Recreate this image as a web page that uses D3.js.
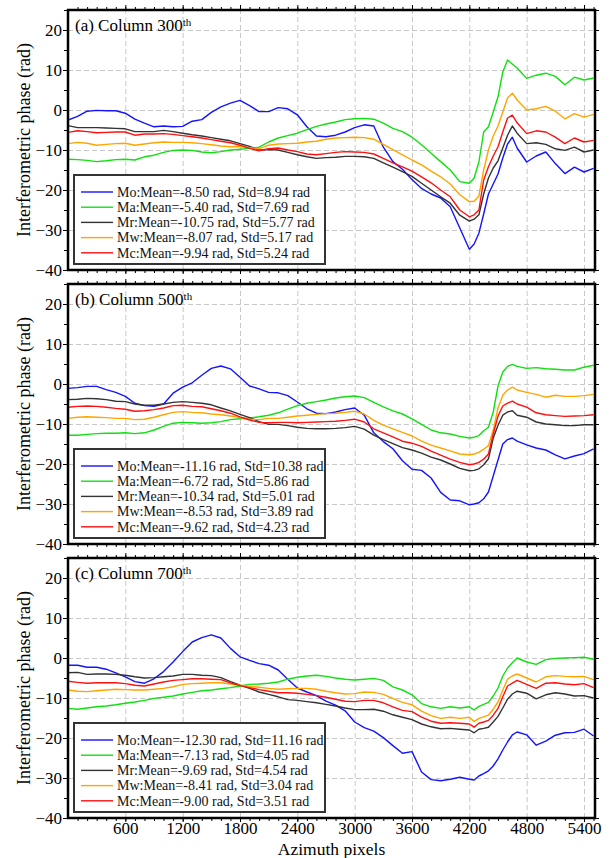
<!DOCTYPE html>
<html lang="en">
<head>
    <meta charset="UTF-8">
    <title>Interferometric phase profiles</title>
    <script src="https://d3js.org/d3.v7.min.js"></script>
    <style>
        body { margin: 0; background: #fff; }
        svg { font-family: "Liberation Serif", "Times New Roman", serif; }
        .grid line { stroke: #c8c8c8; stroke-width: 1px; stroke-dasharray: 5,3; }
        .grid path { display: none; }
        .ax path { display: none; }
        .ax line { stroke: #000; stroke-width: 1px; }
        .ax text { font-family: "Liberation Serif", serif; font-size: 17px; fill: #000; }
        .series { fill: none; stroke-width: 1.4px; stroke-linejoin: round; }
        .frame { fill: none; stroke: #000; stroke-width: 2.5px; }
        .legend-box { fill: #fff; stroke: #333; stroke-width: 2px; }
        .legend text { font-size: 14px; fill: #111; }
    </style>
</head>
<body>
    <svg width="610" height="858"></svg>

    <script>
        // azimuth pixel positions where the profiles were sampled
        const azimuth = [0,100,200,300,400,500,600,700,800,900,
            1000,1100,1200,1300,1400,1500,1600,1700,1800,1900,
            2000,2100,2200,2300,2400,2500,2600,2700,2800,2900,
            3000,3100,3200,3300,3400,3500,3600,3700,3800,3900,
            4000,4100,4200,4250,4300,4350,4400,4450,4500,4550,
            4600,4650,4700,4800,4900,5000,5100,5200,5300,5400,
            5500];

        // (a) column 300
        const mo300 = [-2.5,-1.6,-0.3,-0.1,-0.2,-0.2,-0.8,-2.3,-3.3,-4.2,
            -4.0,-4.2,-4.1,-2.8,-2.4,-0.6,0.8,1.7,2.4,1.1,
            -0.4,-0.4,0.6,0.3,-1.2,-4.2,-6.5,-6.7,-6.3,-5.5,
            -4.4,-3.7,-4.0,-9.3,-12.9,-14.8,-17.4,-19.6,-21.0,-22.0,
            -24.2,-29.5,-34.8,-33.5,-30.8,-26.0,-21.0,-18.5,-16.0,-12.0,
            -8.5,-6.8,-9.5,-13.0,-11.5,-10.5,-13.4,-15.9,-14.3,-15.5,
            -14.6];
        const ma300 = [-12.3,-12.4,-12.6,-12.9,-12.7,-12.4,-12.3,-12.5,-11.7,-11.3,
            -10.6,-10.1,-10.0,-10.1,-10.5,-10.7,-10.4,-10.0,-9.8,-9.6,
            -9.3,-8.0,-7.0,-6.4,-5.8,-4.9,-4.1,-3.5,-3.0,-2.4,
            -2.2,-2.1,-2.3,-3.3,-4.6,-5.4,-6.8,-8.7,-10.8,-12.9,
            -15.0,-17.9,-18.3,-17.0,-13.0,-5.5,-4.2,-0.5,3.3,9.5,
            12.5,11.5,10.5,7.9,8.7,9.2,8.4,6.3,8.2,7.5,
            8.0];
        const mr300 = [-3.9,-4.4,-4.4,-4.4,-4.5,-4.6,-4.7,-5.4,-5.4,-5.4,
            -5.1,-5.4,-5.8,-6.2,-6.5,-6.9,-7.3,-7.7,-8.4,-9.1,
            -10.0,-9.9,-10.0,-10.6,-11.2,-11.7,-12.1,-11.9,-11.8,-11.6,
            -11.6,-11.7,-12.1,-13.2,-14.3,-15.4,-16.6,-18.3,-20.0,-21.7,
            -23.3,-26.3,-27.8,-27.3,-26.2,-21.0,-17.0,-14.5,-12.7,-9.5,
            -6.3,-4.0,-5.8,-8.4,-8.2,-8.6,-9.7,-10.1,-9.3,-10.5,
            -10.0];
        const mw300 = [-8.4,-8.1,-8.3,-8.8,-8.6,-8.4,-8.3,-8.8,-8.5,-8.2,
            -8.0,-8.1,-8.1,-8.2,-8.4,-8.7,-9.0,-9.2,-9.2,-9.4,
            -9.7,-8.8,-8.5,-8.4,-8.3,-8.0,-7.8,-7.3,-7.0,-6.9,
            -6.8,-6.9,-7.3,-8.6,-9.9,-11.2,-12.5,-13.7,-15.3,-16.7,
            -18.5,-21.2,-22.9,-22.8,-21.5,-15.0,-10.0,-6.5,-4.0,-0.5,
            3.0,4.2,2.5,0.0,0.3,0.9,-0.3,-2.2,-0.9,-1.8,
            -1.1];
        const mc300 = [-5.6,-5.2,-5.4,-5.7,-5.6,-5.5,-5.5,-6.3,-6.0,-6.0,
            -5.9,-6.1,-6.4,-6.7,-7.0,-7.4,-7.8,-8.2,-8.8,-9.6,
            -10.2,-9.7,-9.5,-10.0,-10.4,-11.0,-11.2,-10.9,-10.6,-10.4,
            -10.5,-10.6,-11.0,-12.1,-13.2,-14.2,-15.3,-16.7,-18.2,-20.0,
            -21.7,-25.0,-26.7,-26.2,-25.0,-17.5,-14.2,-11.5,-9.2,-5.5,
            -2.0,-1.3,-3.2,-5.9,-5.2,-5.5,-6.8,-8.4,-7.0,-8.0,
            -7.6];

        // (b) column 500
        const mo500 = [-1.1,-0.9,-0.6,-0.6,-1.4,-2.1,-3.1,-4.8,-5.4,-5.6,
            -5.0,-2.3,-0.8,0.3,2.2,3.9,4.5,3.8,1.7,-0.5,
            -1.2,-2.1,-2.2,-2.9,-4.5,-6.2,-7.3,-7.4,-7.0,-6.4,
            -6.0,-7.8,-12.2,-14.4,-16.2,-19.2,-21.3,-21.6,-23.5,-27.1,
            -29.0,-29.2,-30.2,-30.0,-29.7,-28.7,-27.0,-23.0,-19.0,-15.0,
            -13.9,-13.5,-14.3,-15.2,-16.0,-16.5,-17.7,-18.7,-18.0,-17.4,
            -16.2];
        const ma500 = [-12.8,-12.8,-12.6,-12.4,-12.3,-12.3,-12.2,-12.4,-12.2,-11.5,
            -10.6,-9.8,-9.6,-9.7,-9.8,-9.7,-9.4,-8.9,-8.7,-8.5,
            -8.2,-7.8,-7.2,-6.3,-5.4,-4.8,-4.4,-4.0,-3.5,-3.2,
            -3.0,-3.4,-4.6,-5.7,-6.7,-7.5,-8.7,-10.1,-11.5,-12.2,
            -12.5,-13.1,-13.5,-13.3,-12.9,-11.7,-10.8,-7.0,-0.5,3.0,
            4.4,4.9,4.4,3.9,4.1,3.8,3.7,3.5,3.5,4.2,
            4.7];
        const mr500 = [-3.9,-3.8,-3.6,-3.7,-3.9,-4.3,-4.4,-5.0,-5.3,-5.3,
            -5.0,-4.6,-4.4,-4.6,-4.8,-5.2,-6.0,-6.7,-7.6,-8.4,
            -9.4,-10.1,-10.1,-10.4,-10.8,-11.1,-11.2,-11.2,-11.1,-10.9,
            -10.6,-11.3,-12.8,-13.9,-14.9,-15.9,-16.5,-17.3,-18.3,-19.0,
            -20.0,-21.1,-21.7,-21.6,-21.2,-20.2,-18.7,-13.5,-10.3,-7.8,
            -7.0,-6.7,-7.8,-8.3,-9.5,-10.0,-10.2,-10.4,-10.4,-10.2,
            -10.2];
        const mw500 = [-8.6,-8.3,-8.2,-8.3,-8.4,-8.6,-8.6,-8.9,-8.8,-8.3,
            -7.7,-7.1,-6.9,-7.1,-7.2,-7.5,-7.7,-8.0,-8.4,-8.8,
            -8.9,-8.6,-8.6,-8.3,-8.0,-7.8,-7.6,-7.4,-7.3,-7.1,
            -6.8,-7.5,-9.1,-10.3,-11.2,-12.1,-13.0,-14.3,-15.3,-16.0,
            -16.7,-17.5,-17.7,-17.5,-17.1,-16.3,-15.4,-11.5,-6.0,-2.8,
            -1.5,-0.8,-1.5,-2.1,-2.6,-3.3,-2.8,-3.1,-3.1,-2.9,
            -2.6];
        const mc500 = [-5.8,-5.6,-5.5,-5.6,-5.8,-6.1,-6.3,-6.8,-6.7,-6.4,
            -6.0,-5.4,-5.3,-5.6,-5.7,-6.2,-6.7,-7.3,-8.2,-9.0,
            -9.6,-9.7,-9.6,-9.6,-9.7,-9.6,-9.5,-9.4,-9.3,-9.1,
            -8.8,-9.5,-11.2,-12.2,-13.2,-14.3,-14.8,-15.6,-16.8,-17.8,
            -18.8,-19.6,-20.2,-20.0,-19.6,-18.8,-17.5,-12.5,-8.0,-5.5,
            -4.8,-4.3,-5.0,-5.8,-7.2,-7.7,-7.9,-8.1,-8.0,-7.9,
            -7.7];

        // (c) column 700
        const mo700 = [-1.8,-1.8,-2.3,-2.3,-2.8,-3.7,-4.7,-5.9,-6.3,-5.2,
            -3.4,-1.0,1.6,4.0,5.1,5.8,5.0,2.4,0.3,-0.6,
            -1.4,-1.8,-3.0,-5.3,-7.5,-8.5,-9.4,-10.8,-11.8,-13.2,
            -16.0,-17.4,-18.3,-19.9,-21.9,-23.8,-23.4,-28.5,-30.4,-30.7,
            -30.3,-29.8,-30.3,-30.5,-29.5,-28.9,-28.2,-27.0,-25.2,-23.0,
            -21.0,-19.2,-18.5,-19.2,-21.8,-20.8,-19.3,-18.7,-18.6,-17.8,
            -19.5];
        const ma700 = [-12.6,-12.8,-12.5,-12.2,-12.0,-11.7,-11.3,-11.0,-10.6,-10.1,
            -9.8,-9.5,-9.0,-8.6,-8.2,-8.0,-7.7,-7.4,-7.0,-6.6,
            -6.5,-6.3,-6.0,-5.3,-4.8,-4.5,-4.3,-4.6,-5.0,-5.3,
            -5.5,-5.3,-5.1,-5.6,-7.2,-8.0,-9.2,-11.4,-12.2,-12.6,
            -12.2,-12.5,-12.2,-13.0,-12.1,-11.6,-11.1,-9.5,-7.5,-4.5,
            -2.5,-1.2,0.0,-1.0,-1.6,-0.4,-0.1,0.0,0.1,0.2,
            -0.3];
        const mr700 = [-3.7,-3.6,-4.1,-4.0,-4.0,-4.1,-4.3,-4.7,-5.0,-4.9,
            -4.7,-4.5,-4.1,-4.1,-4.3,-4.4,-4.9,-5.9,-6.8,-7.6,
            -8.5,-9.1,-9.7,-10.4,-10.6,-10.9,-11.2,-11.6,-12.0,-12.5,
            -12.9,-12.9,-12.8,-13.3,-14.2,-14.8,-15.4,-16.5,-17.2,-17.7,
            -17.6,-17.8,-18.0,-18.7,-17.8,-17.6,-17.3,-16.0,-14.6,-12.5,
            -10.3,-9.0,-8.3,-8.8,-10.2,-9.2,-8.7,-9.0,-9.5,-9.4,
            -10.0];
        const mw700 = [-8.0,-8.3,-8.4,-8.2,-8.0,-7.8,-7.9,-8.0,-8.0,-7.8,
            -7.6,-7.2,-6.6,-6.4,-6.3,-6.2,-6.2,-6.5,-6.8,-7.1,
            -7.3,-7.6,-7.8,-7.7,-7.6,-7.6,-7.8,-8.3,-8.7,-9.0,
            -8.9,-8.5,-8.6,-9.1,-10.1,-11.1,-11.7,-13.3,-14.4,-15.1,
            -14.8,-15.1,-14.8,-15.9,-15.1,-14.7,-14.3,-12.8,-11.0,-8.0,
            -5.3,-4.5,-4.0,-5.0,-6.0,-4.7,-4.4,-4.6,-4.7,-4.6,
            -5.4];
        const mc700 = [-5.8,-6.1,-6.3,-6.2,-6.2,-6.2,-6.4,-6.8,-7.0,-6.5,
            -6.0,-5.6,-5.4,-5.2,-5.2,-5.3,-5.4,-6.2,-6.9,-7.4,
            -7.9,-8.3,-8.7,-8.7,-8.8,-9.1,-9.4,-9.8,-10.3,-10.8,
            -10.9,-10.6,-10.6,-11.2,-12.2,-13.1,-13.4,-14.8,-15.8,-16.3,
            -16.2,-16.3,-16.5,-17.3,-16.3,-16.0,-15.6,-14.3,-12.6,-9.7,
            -7.0,-6.3,-5.6,-6.6,-7.6,-6.3,-6.2,-6.5,-6.7,-6.4,
            -7.4];

        // legend statistics (rad)
        const methods = ["Mo", "Ma", "Mr", "Mw", "Mc"];
        const colors = ["#1414ff", "#10e010", "#333333", "#ffa500", "#ff1010"];
        const means300 = [-8.50, -5.40, -10.75, -8.07, -9.94];
        const stds300 = [8.94, 7.69, 5.77, 5.17, 5.24];
        const means500 = [-11.16, -6.72, -10.34, -8.53, -9.62];
        const stds500 = [10.38, 5.86, 5.01, 3.89, 4.23];
        const means700 = [-12.30, -7.13, -9.69, -8.41, -9.00];
        const stds700 = [11.16, 4.05, 4.54, 3.04, 3.51];

        const xMajor = [600, 1200, 1800, 2400, 3000, 3600, 4200, 4800, 5400];
        const yMajor = [20, 10, 0, -10, -20, -30, -40];

        const panels = [
            { tag: "(a)", col: "300", series: [mo300, ma300, mr300, mw300, mc300], means: means300, stds: stds300 },
            { tag: "(b)", col: "500", series: [mo500, ma500, mr500, mw500, mc500], means: means500, stds: stds500 },
            { tag: "(c)", col: "700", series: [mo700, ma700, mr700, mw700, mc700], means: means700, stds: stds700 }
        ];

        const svg = d3.select("svg");
        const left = 68, right = 595, ph = 260;
        const tops = [10, 284, 558];

        const x = d3.scaleLinear().domain([0, 5515]).range([left, right]);
        const xMinor = d3.range(100, 5515, 100);
        const yMinor = d3.range(-40, 26, 5);

        panels.forEach((p, k) => {
            const top = tops[k], bottom = top + ph;
            const y = d3.scaleLinear().domain([-40, 25]).range([bottom, top]);
            const g = svg.append("g");

            // dashed grid
            g.append("g").attr("class", "grid")
                .attr("transform", `translate(0,${bottom})`)
                .call(d3.axisBottom(x).tickValues(xMajor).tickSize(-ph).tickFormat(""));
            g.append("g").attr("class", "grid")
                .attr("transform", `translate(${left},0)`)
                .call(d3.axisLeft(y).tickValues(yMajor.filter(v => v > -40)).tickSize(-(right - left)).tickFormat(""));

            // profiles
            g.append("clipPath").attr("id", "clip" + k)
                .append("rect").attr("x", left).attr("y", top).attr("width", right - left).attr("height", ph);

            const line = d3.line().x((d, i) => x(azimuth[i])).y(d => y(d));
            g.append("g").attr("clip-path", `url(#clip${k})`)
                .selectAll("path")
                .data(p.series)
                .enter().append("path")
                .attr("class", "series")
                .attr("stroke", (d, i) => colors[i])
                .attr("d", line);

            // ticks on all four sides
            g.append("g").attr("class", "ax").attr("transform", `translate(${left},0)`)
                .call(d3.axisLeft(y).tickValues(yMinor).tickSize(4).tickFormat(""));
            g.append("g").attr("class", "ax").attr("transform", `translate(${left},0)`)
                .call(d3.axisLeft(y).tickValues(yMajor).tickSize(5).tickPadding(1)
                    .tickFormat(d => d < 0 ? "\u2212" + Math.abs(d) : d));
            g.append("g").attr("class", "ax").attr("transform", `translate(${right},0)`)
                .call(d3.axisRight(y).tickValues(yMinor).tickSize(4).tickFormat(""));
            g.append("g").attr("class", "ax").attr("transform", `translate(0,${top})`)
                .call(d3.axisTop(x).tickValues(xMinor).tickSize(3).tickFormat(""));
            g.append("g").attr("class", "ax").attr("transform", `translate(0,${top})`)
                .call(d3.axisTop(x).tickValues(xMajor).tickSize(5).tickFormat(""));
            g.append("g").attr("class", "ax").attr("transform", `translate(0,${bottom})`)
                .call(d3.axisBottom(x).tickValues(xMinor).tickSize(3).tickFormat(""));
            g.append("g").attr("class", "ax").attr("transform", `translate(0,${bottom})`)
                .call(d3.axisBottom(x).tickValues(xMajor).tickSize(4).tickPadding(0)
                    .tickFormat(k === 2 ? d3.format("d") : ""));

            g.selectAll(".ax text").style("font-family", "'Liberation Serif', serif");

            g.append("rect").attr("class", "frame")
                .attr("x", left).attr("y", top).attr("width", right - left).attr("height", ph);

            // panel title
            const t = g.append("text").attr("x", 75).attr("y", top + 21)
                .style("font-size", "17px").text(`${p.tag} Column ${p.col}`);
            t.append("tspan").attr("dy", -5).style("font-size", "11px").text("th");

            // y label
            g.append("text")
                .attr("transform", `translate(30,${top + ph / 2}) rotate(-90)`)
                .attr("text-anchor", "middle")
                .style("font-size", "18px")
                .text("Interferometric phase (rad)");

            // legend
            const ly = bottom - 95;
            const lg = g.append("g").attr("class", "legend");
            lg.append("rect").attr("class", "legend-box")
                .attr("x", 74).attr("y", ly).attr("width", 251).attr("height", 89);
            methods.forEach((m, i) => {
                const ry = ly + 17 + i * 15.2;
                lg.append("line").attr("x1", 81).attr("x2", 113).attr("y1", ry).attr("y2", ry)
                    .attr("stroke", colors[i]).attr("stroke-width", 1.4);
                lg.append("text").attr("x", 117).attr("y", ry + 4.8)
                    .text(`${m}:Mean=${p.means[i].toFixed(2)} rad, Std=${p.stds[i].toFixed(2)} rad`);
            });
        });

        svg.append("text")
            .attr("x", (left + right) / 2).attr("y", 855)
            .attr("text-anchor", "middle")
            .style("font-size", "17.5px")
            .text("Azimuth pixels");
    </script>
</body>
</html>
